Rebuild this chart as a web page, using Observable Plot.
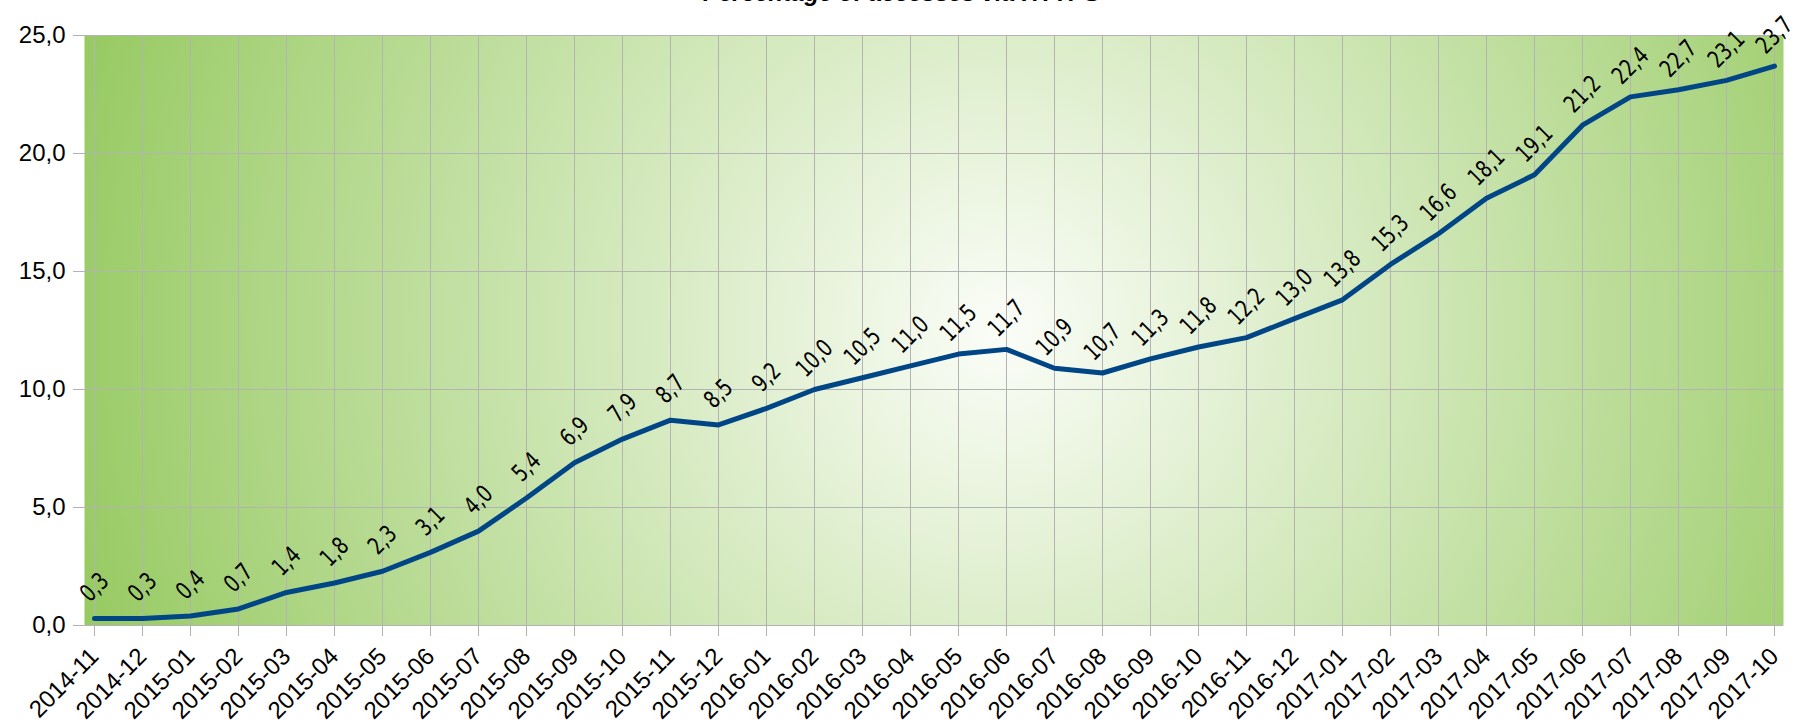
<!DOCTYPE html>
<html>
<head>
<meta charset="utf-8">
<script src="https://cdn.jsdelivr.net/npm/d3@7"></script>
<script src="https://cdn.jsdelivr.net/npm/@observablehq/plot@0.6"></script>
<style>
  html, body { margin: 0; padding: 0; background: #ffffff; overflow: hidden; }
  #chart { position: relative; width: 1803px; height: 726px; }
  #chart svg { display: block; }
  .vlabels text { font-stretch: condensed; }
</style>
</head>
<body>
<div id="chart"></div>
<script>
const title = "Percentage of accesses via HTTPS";
const months = ["2014-11","2014-12","2015-01","2015-02","2015-03","2015-04","2015-05","2015-06","2015-07","2015-08","2015-09","2015-10","2015-11","2015-12","2016-01","2016-02","2016-03","2016-04","2016-05","2016-06","2016-07","2016-08","2016-09","2016-10","2016-11","2016-12","2017-01","2017-02","2017-03","2017-04","2017-05","2017-06","2017-07","2017-08","2017-09","2017-10"];
const values = [0.3,0.3,0.4,0.7,1.4,1.8,2.3,3.1,4.0,5.4,6.9,7.9,8.7,8.5,9.2,10.0,10.5,11.0,11.5,11.7,10.9,10.7,11.3,11.8,12.2,13.0,13.8,15.3,16.6,18.1,19.1,21.2,22.4,22.7,23.1,23.7];
const yTicks = [0,5,10,15,20,25];

const data = months.map((m, i) => ({month: m, value: values[i]}));
const fmt = v => v.toFixed(1).replace(".", ",");
const gridColor = "#b3b3b3";

const chart = Plot.plot({
  width: 1803,
  height: 726,
  marginLeft: 84,
  marginRight: 20,
  marginTop: 35,
  marginBottom: 101,
  style: {fontFamily: "'Liberation Sans', Arial, sans-serif", background: "transparent", overflow: "visible"},
  x: {type: "point", domain: months, padding: 0},
  y: {domain: [0, 25]},
  marks: [
    Plot.frame({fill: "url(#bg)", stroke: "none"}),
    Plot.gridX(months, {stroke: gridColor, strokeOpacity: 1, strokeWidth: 1}),
    Plot.gridY(yTicks, {stroke: gridColor, strokeOpacity: 1, strokeWidth: 1}),
    Plot.axisX(months, {tickSize: 11, tickPadding: 16, tickRotate: -45, stroke: gridColor, fill: "black", fontSize: 24, label: null}),
    Plot.axisY(yTicks, {tickSize: 11, tickPadding: 8, tickFormat: fmt, stroke: gridColor, fill: "black", fontSize: 24, label: null}),
    Plot.line(data, {x: "month", y: "value", stroke: "#004586", strokeWidth: 5, strokeLinejoin: "round"}),
    Plot.text(data, {x: "month", y: "value", text: d => fmt(d.value), rotate: -45, dy: -31, textAnchor: "middle", lineAnchor: "middle", fontSize: 24, fill: "black", className: "vlabels", fontFamily: "'DejaVu Sans Condensed', 'DejaVu Sans', sans-serif"})
  ]
});

// condensed look for the value labels
chart.querySelectorAll(".vlabels text").forEach(el => {
  const tr = el.getAttribute("transform") || "";
  el.setAttribute("transform", tr + " scale(0.84,1)");
});

// gradient definition for the plot background
const ns = "http://www.w3.org/2000/svg";
const defs = document.createElementNS(ns, "defs");
defs.innerHTML = `<radialGradient id="bg" gradientUnits="userSpaceOnUse" cx="1000" cy="330" r="960">
  <stop offset="0" stop-color="#fbfdf8"/>
  <stop offset="1" stop-color="#97ca62"/>
</radialGradient>`;
chart.insertBefore(defs, chart.firstChild);

// title (clipped at the top of the picture)
const t = document.createElementNS(ns, "text");
t.setAttribute("x", 703);
t.setAttribute("y", 1);
t.setAttribute("text-anchor", "start");
t.setAttribute("font-size", 24);
t.setAttribute("font-weight", "bold");
t.setAttribute("font-style", "italic");
t.setAttribute("font-family", "'Liberation Sans', Arial, sans-serif");
t.setAttribute("fill", "black");
t.textContent = title;
chart.appendChild(t);

document.getElementById("chart").appendChild(chart);
</script>
</body>
</html>
